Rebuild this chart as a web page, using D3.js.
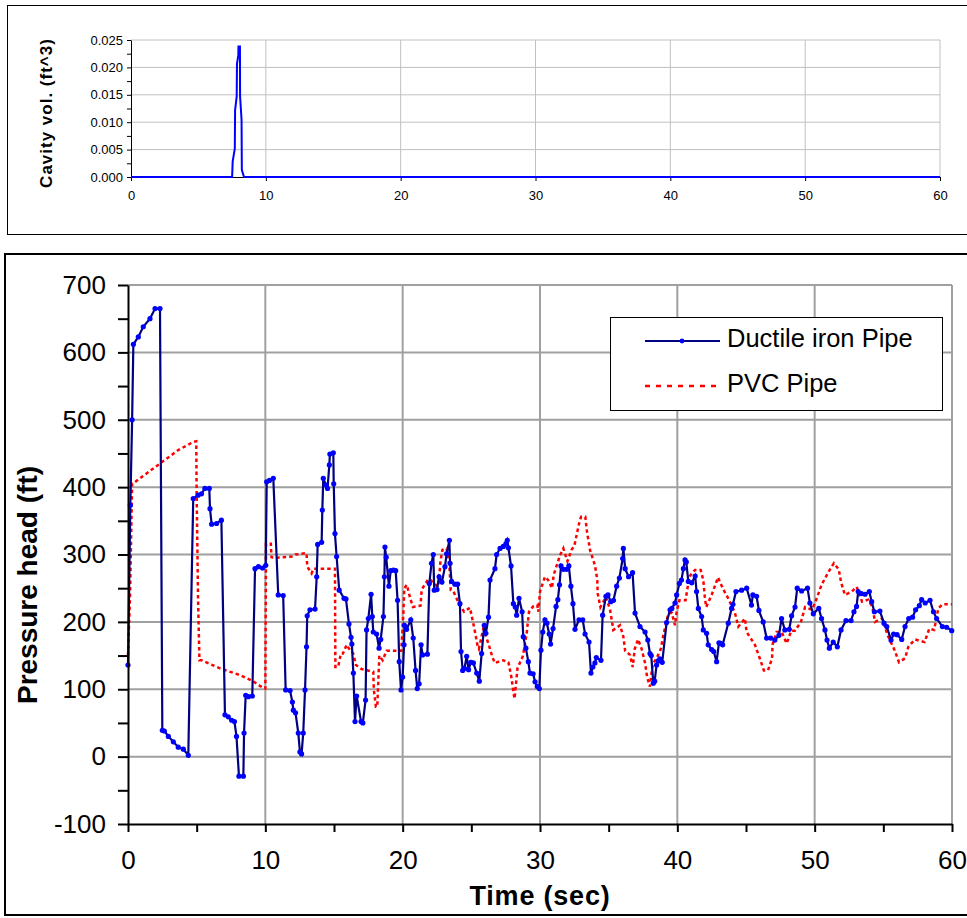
<!DOCTYPE html>
<html><head><meta charset="utf-8">
<script src="https://cdn.jsdelivr.net/npm/d3@7"></script>
<style>
body{margin:0;background:#fff;}
svg{display:block;font-family:"Liberation Sans",Arial,sans-serif;}
</style></head>
<body><svg id="c" width="967" height="918"></svg>
<script>
// ---------- DATA ----------
const cavityTime = [0, 7.5, 7.54, 7.7, 7.72, 7.84, 7.86, 7.96, 7.97, 8.08, 8.09, 8.2, 8.22, 8.38, 60];
const cavityVol  = [0, 0, 0.0028, 0.0052, 0.0122, 0.0147, 0.0207, 0.0222, 0.0238, 0.0238, 0.0147, 0.0104, 0.0013, 0, 0];

const ductileTime = [0,0.17,0.3,0.39,0.75,1.11,1.6,1.97,2.33,2.5,2.65,2.94,3.3,3.66,4.03,4.39,4.75,5.1,5.35,5.6,5.92,5.97,6.09,6.45,6.8,7.06,7.3,7.55,7.75,7.9,8.08,8.4,8.45,8.57,8.76,9.05,9.25,9.5,9.8,10.03,10.1,10.3,10.58,10.94,11.3,11.48,11.8,11.97,12.04,12.2,12.4,12.52,12.64,12.76,12.89,13.0,13.05,13.25,13.62,13.74,13.81,14.1,14.15,14.22,14.42,14.53,14.66,14.7,14.95,14.98,15.07,15.19,15.38,15.73,15.87,16.09,16.24,16.3,16.41,16.53,16.65,16.97,17.1,17.3,17.37,17.5,17.7,17.79,17.86,18.1,18.28,18.4,18.6,18.67,18.71,18.8,19.0,19.13,19.33,19.49,19.63,19.75,19.88,20.0,20.1,20.13,20.29,20.59,20.77,20.94,21.06,21.2,21.34,21.45,21.8,21.94,22.1,22.23,22.3,22.5,22.65,22.86,23.08,23.2,23.4,23.45,23.56,23.8,24.0,24.17,24.25,24.37,24.5,24.66,24.8,24.96,25.15,25.39,25.58,25.75,25.94,26.06,26.25,26.36,26.72,26.84,27.09,27.33,27.52,27.62,27.7,27.89,28.06,28.2,28.3,28.47,28.7,28.78,28.97,29.15,29.27,29.5,29.64,29.8,29.95,30.07,30.2,30.36,30.5,30.67,30.77,30.95,31.17,31.3,31.42,31.53,31.7,31.94,32.1,32.25,32.4,32.55,32.84,33.11,33.28,33.57,33.71,33.85,34.0,34.1,34.44,34.56,34.8,34.95,35.15,35.35,35.58,35.78,36.02,36.07,36.2,36.45,36.74,36.92,37.28,37.65,37.85,38.01,38.1,38.25,38.35,38.49,38.6,38.73,38.9,39.22,39.47,39.6,39.83,39.95,40.15,40.3,40.44,40.56,40.65,40.8,41.05,41.3,41.4,41.53,41.77,41.89,42.13,42.25,42.5,42.65,42.86,43.03,43.15,43.3,43.71,43.95,44.05,44.27,44.68,45.05,45.4,45.5,45.77,45.94,46.25,46.5,46.8,47.1,47.4,47.59,47.83,48.15,48.32,48.57,48.73,49.05,49.48,49.65,49.9,50.3,50.5,50.75,50.9,51.07,51.35,51.65,51.92,52.28,52.65,52.86,53.05,53.17,53.4,53.67,53.98,54.15,54.35,54.75,55.05,55.25,55.56,55.75,56.0,56.34,56.58,56.85,57.13,57.35,57.62,57.79,58.05,58.4,58.65,58.88,59.3,59.61,59.98];
const ductileHead = [136,373,500,612,623,638,650,665,665,39,38,30,22,14,11,2,383,388,390,398,398,368,345,346,351,62,59,54,52,30,-29,-29,35,91,89,90,279,282,280,284,408,410,413,240,239,99,98,81,69,65,35,7,4,35,99,163,209,218,219,267,315,318,366,413,403,398,433,449,451,405,331,297,247,235,234,197,177,167,124,52,90,52,50,84,188,205,241,208,185,182,161,174,208,267,311,296,253,276,277,276,232,141,99,118,166,195,189,203,176,128,101,108,166,151,152,257,287,300,247,248,267,259,282,301,321,287,260,256,256,227,156,128,131,149,129,140,139,124,112,153,195,183,207,262,279,300,309,312,316,321,310,283,227,222,210,235,215,178,161,141,124,123,111,104,101,158,185,203,198,182,167,190,223,233,255,283,278,278,283,253,227,189,203,203,182,170,124,133,139,147,143,210,238,240,230,232,253,265,294,309,279,267,273,213,193,185,173,153,150,109,112,136,142,145,140,199,218,220,228,240,257,262,279,292,289,260,258,268,245,220,208,188,183,166,159,156,141,169,168,166,198,220,226,245,247,250,225,240,238,217,200,176,176,173,180,205,188,189,209,222,250,246,250,228,212,220,205,188,173,161,170,163,188,202,202,215,223,245,242,241,245,230,215,216,198,193,173,182,181,174,193,205,207,218,224,233,228,232,215,205,193,192,187];

const pvcTime = [0,0.15,0.3,0.35,1.0,2.33,3.66,4.75,4.97,5.0,5.1,5.2,5.36,6.7,8.15,9.1,9.9,10.0,10.05,10.4,10.45,10.6,12.0,12.2,13.0,13.05,13.37,13.5,15.07,15.1,15.3,15.5,15.65,15.92,16.1,16.4,16.6,17.0,17.86,17.9,18.05,18.15,18.3,18.54,18.83,19.9,20.05,20.12,20.3,20.55,20.75,21.3,21.38,21.45,21.85,22.0,22.55,22.65,22.75,22.9,23.2,23.4,23.5,23.7,24.1,24.47,24.9,25.24,25.45,25.55,25.87,26.24,26.5,26.7,27.32,27.7,27.9,28.1,28.15,28.36,28.75,29.03,29.2,29.5,29.8,29.88,30.0,30.36,30.6,30.87,31.0,31.46,31.7,32.0,32.3,32.5,32.72,32.9,33.0,33.3,33.42,33.65,34.0,34.17,34.2,34.4,34.8,35.1,35.34,35.83,36.07,36.2,36.55,36.75,36.9,37.14,37.4,37.65,37.8,38.0,38.2,38.49,38.8,38.98,39.35,39.6,39.83,39.95,40.15,40.6,40.87,41.28,41.7,41.89,42.0,42.1,42.5,42.96,43.3,43.7,44.2,44.44,44.93,45.04,45.65,46.0,46.3,46.6,46.9,46.93,47.23,47.6,47.96,48.3,48.57,49.0,49.3,49.8,50.1,50.5,51.0,51.4,51.75,51.92,52.2,52.7,53.06,53.45,53.9,54.2,54.4,54.9,55.34,55.8,56.14,56.58,56.82,57.3,58.0,58.35,58.7,59.0,59.3,60.0];
const pvcHead = [150,240,405,405,415,435,455,467,468,388,235,143,143,131,121,112,101,101,316,316,296,295,297,300,302,282,272,279,279,133,133,153,153,166,160,153,136,130,126,99,74,74,150,143,157,157,213,250,255,235,222,224,247,250,263,263,252,262,290,307,309,285,247,245,227,215,221,188,165,160,190,168,150,139,143,140,120,91,86,131,149,183,215,223,225,215,245,267,262,250,270,299,309,290,307,313,334,351,356,356,334,306,284,263,242,222,237,218,188,195,178,157,151,133,160,174,160,139,118,104,137,146,160,180,213,213,195,215,232,232,267,277,277,262,237,222,240,266,250,235,213,193,205,185,166,146,128,128,146,166,185,185,168,187,187,200,222,218,232,255,274,287,278,259,240,245,252,230,233,222,200,205,179,159,140,146,163,174,170,190,188,220,226,226];

const seriesNames = ["Ductile iron Pipe", "PVC Pipe"];
const topYTicks = [0, 0.005, 0.010, 0.015, 0.020, 0.025];
const xTicks = [0, 10, 20, 30, 40, 50, 60];
const mainYTicks = [-100, 0, 100, 200, 300, 400, 500, 600, 700];

// ---------- DRAW ----------
const svg = d3.select("#c");
const FONT = '"Liberation Sans", Arial, sans-serif';

svg.append("rect").attr("x", 7.5).attr("y", 5.5).attr("width", 970).attr("height", 229)
  .attr("fill", "none").attr("stroke", "#000").attr("stroke-width", 1);
svg.append("rect").attr("x", 5).attr("y", 254).attr("width", 970).attr("height", 661)
  .attr("fill", "none").attr("stroke", "#000").attr("stroke-width", 2);

// ===== Top chart =====
const tx = d3.scaleLinear().domain([0, 60]).range([131, 940]);
const ty = d3.scaleLinear().domain([0, 0.025]).range([177, 40]);
const topG = svg.append("g");
topG.append("g").selectAll("line").data(topYTicks.filter(d => d > 0)).join("line")
  .attr("x1", tx(0)).attr("x2", tx(60)).attr("y1", d => ty(d)).attr("y2", d => ty(d))
  .attr("stroke", "#c0c0c0").attr("stroke-width", 1);
topG.append("g").selectAll("line").data(xTicks.filter(d => d > 0)).join("line")
  .attr("x1", d => tx(d)).attr("x2", d => tx(d)).attr("y1", ty(0)).attr("y2", ty(0.025))
  .attr("stroke", "#c0c0c0").attr("stroke-width", 1);
const tyAxis = topG.append("g").attr("transform", `translate(${tx(0)},0)`)
  .call(d3.axisLeft(ty).tickValues(topYTicks).tickFormat(d3.format(".3f")).tickSize(4).tickSizeOuter(0));
topG.append("g").attr("transform", `translate(${tx(0)},0)`)
  .call(d3.axisLeft(ty).tickValues(d3.range(0.0025, 0.025, 0.005)).tickFormat("").tickSize(4).tickSizeOuter(0))
  .select(".domain").remove();
tyAxis.selectAll("text").attr("font-size", 13).attr("font-family", FONT).attr("fill", "#000").attr("dx", -1);
const txAxis = topG.append("g").attr("transform", `translate(0,${ty(0)})`)
  .call(d3.axisBottom(tx).tickValues(xTicks).tickSize(4).tickSizeOuter(0));
txAxis.selectAll("text").attr("font-size", 13).attr("font-family", FONT).attr("fill", "#000").attr("dy", "1.2em");
topG.selectAll(".domain").attr("stroke", "#000");
topG.selectAll(".tick line").attr("stroke", "#000");
topG.append("text").attr("transform", `translate(52,113) rotate(-90)`)
  .attr("text-anchor", "middle").attr("font-size", 17).attr("font-weight", "bold").attr("font-family", FONT)
  .attr("letter-spacing", 1).text("Cavity vol. (ft^3)");
const cavData = cavityTime.map((t, i) => [t, cavityVol[i]]);
topG.append("path").datum(cavData)
  .attr("d", d3.line().x(d => tx(d[0])).y(d => ty(d[1])))
  .attr("fill", "none").attr("stroke", "#0000ff").attr("stroke-width", 2);

// ===== Main chart =====
const x = d3.scaleLinear().domain([0, 60]).range([128, 952]);
const y = d3.scaleLinear().domain([-100, 700]).range([824, 285]);
const mainG = svg.append("g");
mainG.append("g").selectAll("line").data(mainYTicks.filter(d => d > -100)).join("line")
  .attr("x1", x(0)).attr("x2", x(60)).attr("y1", d => y(d)).attr("y2", d => y(d))
  .attr("stroke", "#a0a0a0").attr("stroke-width", 2);
mainG.append("g").selectAll("line").data(xTicks.filter(d => d > 0)).join("line")
  .attr("x1", d => x(d)).attr("x2", d => x(d)).attr("y1", y(-100)).attr("y2", y(700))
  .attr("stroke", "#a0a0a0").attr("stroke-width", 2);

const pvcData = pvcTime.map((t, i) => [t, pvcHead[i]]);
const ductData = ductileTime.map((t, i) => [t, ductileHead[i]]);
const line = d3.line().x(d => x(d[0])).y(d => y(d[1]));
mainG.append("path").datum(pvcData).attr("d", line)
  .attr("fill", "none").attr("stroke", "#ff0000").attr("stroke-width", 2.5).attr("stroke-dasharray", "3.5,3");
mainG.append("path").datum(ductData).attr("d", line)
  .attr("fill", "none").attr("stroke", "#000080").attr("stroke-width", 2.2);
mainG.append("g").selectAll("circle").data(ductData).join("circle")
  .attr("cx", d => x(d[0])).attr("cy", d => y(d[1])).attr("r", 2.6).attr("fill", "#0000ff");

const yAxis = mainG.append("g").attr("transform", `translate(${x(0)},0)`)
  .call(d3.axisLeft(y).tickValues(mainYTicks).tickFormat(d => String(d)).tickSize(10).tickSizeOuter(0).tickPadding(12));
mainG.append("g").attr("transform", `translate(${x(0)},0)`)
  .call(d3.axisLeft(y).tickValues(d3.range(-50, 700, 100)).tickFormat("").tickSize(10))
  .select(".domain").remove();
const xAxis = mainG.append("g").attr("transform", `translate(0,${y(-100)})`)
  .call(d3.axisBottom(x).tickValues(d3.range(0, 61, 5)).tickFormat(d => d % 10 === 0 ? d : "").tickSize(8).tickSizeOuter(0).tickPadding(19));
[yAxis, xAxis].forEach(a => {
  a.select(".domain").attr("stroke", "#000").attr("stroke-width", 2);
  a.selectAll("text").attr("font-size", 26).attr("font-family", FONT).attr("fill", "#000");
});
mainG.selectAll(".tick line").attr("stroke", "#000").attr("stroke-width", 2);

mainG.append("text").attr("transform", `translate(37,585) rotate(-90)`)
  .attr("text-anchor", "middle").attr("font-size", 28).attr("font-weight", "bold").attr("font-family", FONT)
  .text("Pressure head (ft)");
mainG.append("text").attr("x", (x(0) + x(60)) / 2).attr("y", 905)
  .attr("text-anchor", "middle").attr("font-size", 27).attr("font-weight", "bold").attr("font-family", FONT)
  .attr("letter-spacing", 0.8).text("Time (sec)");

const lg = mainG.append("g");
lg.append("rect").attr("x", 610.5).attr("y", 317.5).attr("width", 332).attr("height", 93)
  .attr("fill", "#fff").attr("stroke", "#000").attr("stroke-width", 1);
const rows = [{ y: 341, name: seriesNames[0] }, { y: 386, name: seriesNames[1] }];
lg.append("line").attr("x1", 645).attr("x2", 720).attr("y1", rows[0].y).attr("y2", rows[0].y)
  .attr("stroke", "#000080").attr("stroke-width", 2);
lg.append("circle").attr("cx", 682).attr("cy", rows[0].y).attr("r", 2.4).attr("fill", "#0000ff");
lg.append("line").attr("x1", 645).attr("x2", 720).attr("y1", rows[1].y).attr("y2", rows[1].y)
  .attr("stroke", "#ff0000").attr("stroke-width", 2.5).attr("stroke-dasharray", "5,6");
lg.selectAll("text.lt").data(rows).join("text").attr("class", "lt")
  .attr("x", 727).attr("y", d => d.y + 6).attr("font-size", 25.5).attr("font-family", FONT)
  .text(d => d.name);
</script></body></html>
